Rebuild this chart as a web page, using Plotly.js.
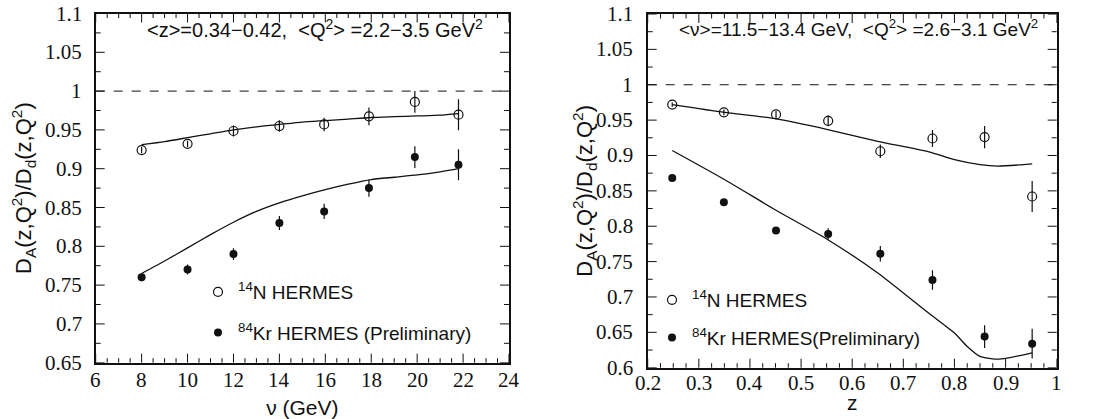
<!DOCTYPE html>
<html>
<head>
<meta charset="utf-8">
<script src="https://cdn.plot.ly/plotly-3.0.1.min.js"></script>
<style>html,body{margin:0;padding:0;background:#fff;}#chart{width:1102px;height:419px;}</style>
</head>
<body>
<div id="chart"></div>
<script>
// ---------- Left panel: ratio vs nu ----------
const nuData = [8.0, 10.0, 12.0, 14.0, 15.95, 17.9, 19.9, 21.8];
const nLeft = [0.924, 0.932, 0.9486, 0.955, 0.957, 0.9675, 0.986, 0.9696];
const nLeftErr = [0.004, 0.004, 0.007, 0.0075, 0.0086, 0.0114, 0.014, 0.02];
const krLeft = [0.760, 0.770, 0.790, 0.830, 0.845, 0.875, 0.915, 0.905];
const krLeftErr = [0.005, 0.0065, 0.0075, 0.009, 0.0097, 0.011, 0.014, 0.02];

const nuModel = [8, 9, 10, 11, 12, 13, 14, 15, 16, 17, 18, 19, 20, 21, 21.8];
const nLeftModel = [0.931, 0.935, 0.940, 0.945, 0.950, 0.954, 0.957, 0.960, 0.962, 0.964, 0.966, 0.967, 0.968, 0.969, 0.971];
const krLeftModel = [0.765, 0.781, 0.798, 0.815, 0.831, 0.845, 0.856, 0.865, 0.873, 0.880, 0.886, 0.889, 0.892, 0.896, 0.900];

// ---------- Right panel: ratio vs z ----------
const zData = [0.248, 0.349, 0.451, 0.553, 0.655, 0.757, 0.859, 0.952];
const nRight = [0.972, 0.961, 0.958, 0.949, 0.906, 0.924, 0.926, 0.842];
const nRightErr = [0.003, 0.004, 0.005, 0.0078, 0.0094, 0.012, 0.0157, 0.022];
const krRight = [0.868, 0.834, 0.794, 0.789, 0.761, 0.724, 0.644, 0.634];
const krRightErr = [0.003, 0.004, 0.005, 0.008, 0.011, 0.0137, 0.016, 0.021];

const zModelN = [0.248, 0.35, 0.45, 0.55, 0.65, 0.75, 0.80, 0.85, 0.885, 0.952];
const nRightModel = [0.972, 0.961, 0.952, 0.937, 0.920, 0.905, 0.894, 0.887, 0.885, 0.888];
const zModelKr = [0.248, 0.35, 0.45, 0.55, 0.65, 0.75, 0.80, 0.825, 0.85, 0.887, 0.952];
const krRightModel = [0.907, 0.866, 0.823, 0.782, 0.734, 0.677, 0.649, 0.630, 0.616, 0.612, 0.621];

// ---------- Tick labels ----------
const leftXTicks = ['6', '8', '10', '12', '14', '16', '18', '20', '22', '24'];
const leftYTicks = ['0.65', '0.7', '0.75', '0.8', '0.85', '0.9', '0.95', '1', '1.05', '1.1'];
const rightXTicks = ['0.2', '0.3', '0.4', '0.5', '0.6', '0.7', '0.8', '0.9', '1'];
const rightYTicks = ['0.6', '0.65', '0.7', '0.75', '0.8', '0.85', '0.9', '0.95', '1', '1.05', '1.1'];

// ---------- Text ----------
const nLabel = '<sup>14</sup>N HERMES';
const krLabelLeft = '<sup>84</sup>Kr HERMES (Preliminary)';
const krLabelRight = '<sup>84</sup>Kr HERMES(Preliminary)';
const leftNote = '&lt;z&gt;=0.34\u22120.42,  &lt;Q<sup>2</sup>&gt; =2.2\u22123.5 GeV<sup>2</sup>';
const rightNote = '&lt;\u03bd&gt;=11.5\u221213.4 GeV,  &lt;Q<sup>2</sup>&gt; =2.6\u22123.1 GeV<sup>2</sup>';
const yTitle = 'D<sub>A</sub>(z,Q<sup>2</sup>)/D<sub>d</sub>(z,Q<sup>2</sup>)';

const INK = '#111';
const sans = 'Liberation Sans';
const serif = 'Liberation Serif';

function errY(arr){ return {type:'data', array:arr, visible:true, color:INK, thickness:1.2, width:0}; }

const traces = [
  {x: nuModel, y: nLeftModel, xaxis:'x', yaxis:'y', mode:'lines', line:{color:INK, width:1.3, shape:'spline', smoothing:0.6}, showlegend:false, hoverinfo:'skip'},
  {x: nuModel, y: krLeftModel, xaxis:'x', yaxis:'y', mode:'lines', line:{color:INK, width:1.3, shape:'spline', smoothing:0.6}, showlegend:false, hoverinfo:'skip'},
  {x: nuData, y: nLeft, error_y: errY(nLeftErr), xaxis:'x', yaxis:'y', mode:'markers', name:nLabel,
   marker:{symbol:'circle-open', size:9, color:INK, line:{width:1.2, color:INK}}, legend:'legend', legendgroup:'a'},
  {x: nuData, y: krLeft, error_y: errY(krLeftErr), xaxis:'x', yaxis:'y', mode:'markers', name:krLabelLeft,
   marker:{symbol:'circle', size:8, color:INK}, legend:'legend', legendgroup:'b'},

  {x: zModelN, y: nRightModel, xaxis:'x2', yaxis:'y2', mode:'lines', line:{color:INK, width:1.3, shape:'spline', smoothing:0.6}, showlegend:false, hoverinfo:'skip'},
  {x: zModelKr, y: krRightModel, xaxis:'x2', yaxis:'y2', mode:'lines', line:{color:INK, width:1.3, shape:'spline', smoothing:0.6}, showlegend:false, hoverinfo:'skip'},
  {x: zData, y: nRight, error_y: errY(nRightErr), xaxis:'x2', yaxis:'y2', mode:'markers', name:nLabel,
   marker:{symbol:'circle-open', size:9, color:INK, line:{width:1.2, color:INK}}, legend:'legend2', legendgroup:'c'},
  {x: zData, y: krRight, error_y: errY(krRightErr), xaxis:'x2', yaxis:'y2', mode:'markers', name:krLabelRight,
   marker:{symbol:'circle', size:8, color:INK}, legend:'legend2', legendgroup:'d'}
];

// ---------- axis tick marks (inside, on all four sides) and tick labels ----------
function steps(lo, hi, step){
  const out = [];
  const n = Math.round((hi - lo) / step);
  for (let i = 0; i <= n; i++) out.push(+(lo + i * step).toFixed(6));
  return out;
}
function isMajor(v, majors){ return majors.some(m => Math.abs(m - v) < 1e-6); }

function tickShapes(xa, ya, xMajor, yMajor, xMinorStep, yMinorStep){
  const shp = [];
  const ln = {color:INK, width:1};
  const xLo = xMajor[0], xHi = xMajor[xMajor.length-1];
  const yLo = yMajor[0], yHi = yMajor[yMajor.length-1];
  const xs = steps(xLo, xHi, xMinorStep), ys = steps(yLo, yHi, yMinorStep);
  xs.forEach(v => {
    const len = isMajor(v, xMajor) ? 9 : 4.5;
    shp.push({type:'line', xref:xa, yref:ya+' domain', x0:v, x1:v, ysizemode:'pixel', yanchor:0, y0:0, y1:len, line:ln});
    shp.push({type:'line', xref:xa, yref:ya+' domain', x0:v, x1:v, ysizemode:'pixel', yanchor:1, y0:0, y1:-len, line:ln});
  });
  ys.forEach(v => {
    const len = isMajor(v, yMajor) ? 9 : 5;
    shp.push({type:'line', xref:xa+' domain', yref:ya, y0:v, y1:v, xsizemode:'pixel', xanchor:0, x0:0, x1:len, line:ln});
    shp.push({type:'line', xref:xa+' domain', yref:ya, y0:v, y1:v, xsizemode:'pixel', xanchor:1, x0:0, x1:-len, line:ln});
  });
  return shp;
}
function tickLabels(xa, ya, xLabels, yLabels, xShift, yShift){
  const ann = [];
  xLabels.forEach(t => ann.push({text:t, xref:xa, yref:ya+' domain', x:parseFloat(t), y:0, xanchor:'center', yanchor:'middle',
    yshift:yShift, showarrow:false, font:{family:serif, size:21, color:INK}}));
  yLabels.forEach(t => ann.push({text:t, xref:xa+' domain', yref:ya, x:0, y:parseFloat(t), xanchor:'right', yanchor:'middle',
    xshift:xShift, showarrow:false, font:{family:serif, size:21, color:INK}}));
  return ann;
}

function axisBase(extra){
  return Object.assign({
    showgrid:false, zeroline:false, showline:true, linecolor:INK, linewidth:1.5, mirror:true,
    ticks:'', showticklabels:false, automargin:false
  }, extra);
}

const W = 1102, H = 419;
const leftXVals = leftXTicks.map(Number), leftYVals = leftYTicks.map(Number);
const rightXVals = rightXTicks.map(Number), rightYVals = rightYTicks.map(Number);

const layout = {
  width: W, height: H,
  margin:{l:0, r:0, t:0, b:0},
  paper_bgcolor:'#fff', plot_bgcolor:'rgba(0,0,0,0)',
  font:{family:sans, color:INK},
  xaxis: axisBase({domain:[95.7/W, 509/W], range:[leftXVals[0], leftXVals[leftXVals.length-1]], anchor:'y',
    title:{text:'\u03bd (GeV)', font:{family:sans, size:21, color:INK}, standoff:37}}),
  yaxis: axisBase({domain:[1-362.7/H, 1-13.5/H], range:[leftYVals[0], leftYVals[leftYVals.length-1]], anchor:'x',
    title:{text:yTitle, font:{family:sans, size:22, color:INK}, standoff:56}}),
  xaxis2: axisBase({domain:[647.7/W, 1056.7/W], range:[rightXVals[0], rightXVals[rightXVals.length-1]], anchor:'y2',
    title:{text:'z', font:{family:sans, size:21, color:INK}, standoff:27}}),
  yaxis2: axisBase({domain:[1-367.7/H, 1-14/H], range:[rightYVals[0], rightYVals[rightYVals.length-1]], anchor:'x2',
    title:{text:yTitle, font:{family:sans, size:22, color:INK}, standoff:47}}),
  shapes:[
    {type:'line', xref:'x domain', yref:'y', x0:0, x1:1, y0:1, y1:1, line:{color:INK, width:1, dash:'dash'}},
    {type:'line', xref:'x2 domain', yref:'y2', x0:0, x1:1, y0:1, y1:1, line:{color:INK, width:1, dash:'dash'}}
  ].concat(tickShapes('x', 'y', leftXVals, leftYVals, 0.5, 0.025),
           tickShapes('x2', 'y2', rightXVals, rightYVals, 0.025, 0.025)),
  annotations:[
    {text:leftNote, xref:'x domain', yref:'y domain', x:0.53, y:0.957, xanchor:'center', yanchor:'middle', showarrow:false,
     font:{family:sans, size:20, color:INK}},
    {text:rightNote, xref:'x2 domain', yref:'y2 domain', x:0.515, y:0.96, xanchor:'center', yanchor:'middle', showarrow:false,
     font:{family:sans, size:19, color:INK}}
  ].concat(tickLabels('x', 'y', leftXTicks, leftYTicks, -12, -17),
           tickLabels('x2', 'y2', rightXTicks, rightYTicks, -13, -15)),
  legend:{x:198/W, y:1-273/H, xanchor:'left', yanchor:'top', bgcolor:'rgba(0,0,0,0)', borderwidth:0,
    font:{family:sans, size:19, color:INK}, traceorder:'grouped', tracegroupgap:13},
  legend2:{x:652/W, y:1-281/H, xanchor:'left', yanchor:'top', bgcolor:'rgba(0,0,0,0)', borderwidth:0,
    font:{family:sans, size:19, color:INK}, traceorder:'grouped', tracegroupgap:10},
  showlegend:true
};

Plotly.newPlot('chart', traces, layout, {displayModeBar:false});
</script>
</body>
</html>
